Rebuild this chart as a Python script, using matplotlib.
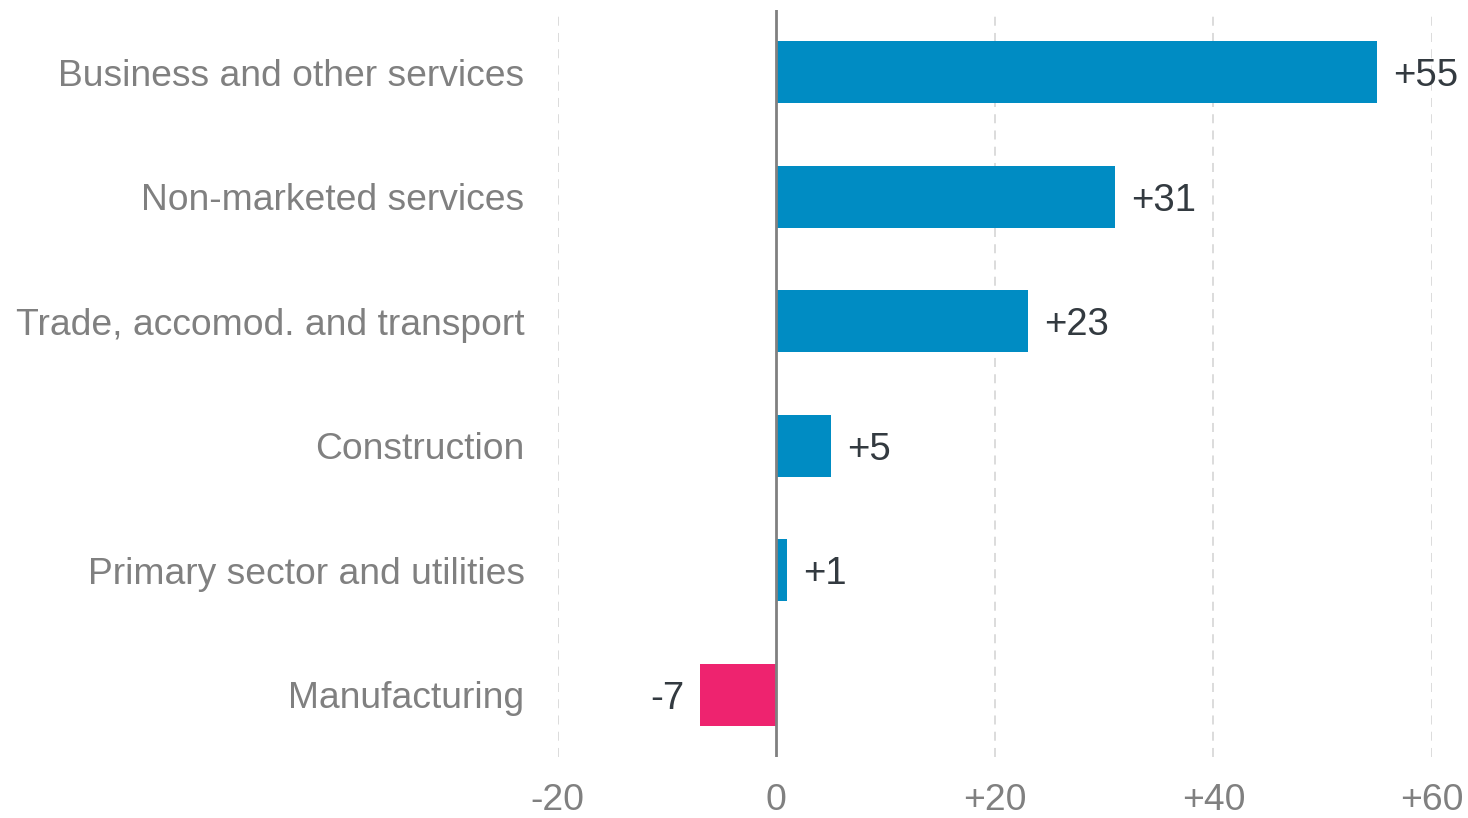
import numpy as np
import matplotlib.pyplot as plt

plt.rcParams['font.family'] = ['Liberation Sans', 'DejaVu Sans']

sectors = ['Business and other services', 'Non-marketed services',
           'Trade, accomod. and transport', 'Construction',
           'Primary sector and utilities', 'Manufacturing']
change = [55, 31, 23, 5, 1, -7]
ticks = [-20, 0, 20, 40, 60]
tick_labels = ['-20', '0', '+20', '+40', '+60']

blue = '#008cc3'
pink = '#ee236f'
grey = '#808080'

fig = plt.figure(figsize=(14.68, 8.18), dpi=100)
ax = fig.add_axes([0.380, 0.0746, 0.5955, 0.9132])

y = np.arange(len(sectors))
colors = [blue if v >= 0 else pink for v in change]
ax.barh(y, change, height=0.5, color=colors, zorder=3)

for yi, v in zip(y, change):
    txt = '+%d' % v if v > 0 else '%d' % v
    if v >= 0:
        ax.annotate(txt, (v, yi), xytext=(16, 0), textcoords='offset pixels',
                    ha='left', va='center_baseline', fontsize=27.5, color='#333a40')
    else:
        ax.annotate(txt, (v, yi), xytext=(-16, 0), textcoords='offset pixels',
                    ha='right', va='center_baseline', fontsize=27.5, color='#333a40')

ax.set_xlim(-20, 60)
ax.set_ylim(len(sectors) - 0.5, -0.5)
ax.set_yticks(y)
ax.set_yticklabels(sectors)
ax.set_xticks(ticks)
ax.set_xticklabels(tick_labels)
ax.tick_params(axis='y', length=0, pad=24, labelsize=26.8, labelcolor=grey)
ax.tick_params(axis='x', length=0, pad=19, labelsize=26.8, labelcolor=grey)

for t in ticks:
    if t != 0:
        ax.axvline(t, color='#d9d9d9', lw=1.3, ls=(0, (5, 4)), zorder=1)
ax.axvline(0, color=grey, lw=2, zorder=4)

for s in ax.spines.values():
    s.set_visible(False)

fig.savefig('out.png', dpi=100)
